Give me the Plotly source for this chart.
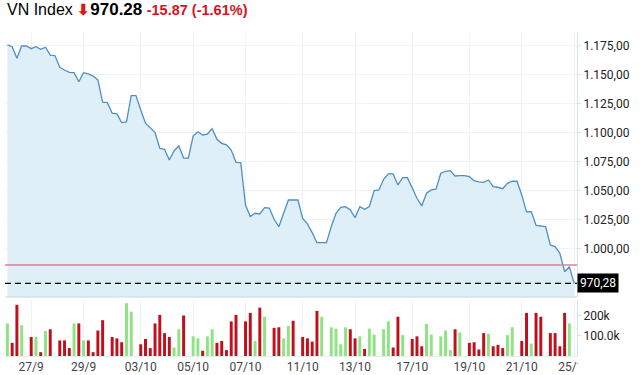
import plotly.graph_objects as go

# ---------------- data ----------------
price = [
    1175.9, 1174.4, 1164.4, 1175.0, 1175.0, 1172.7, 1174.4, 1172.2, 1173.9, 1167.2,
    1166.6, 1156.6, 1154.3, 1152.3, 1152.0, 1144.2, 1152.0, 1150.9, 1149.1, 1145.7,
    1126.5, 1126.1, 1117.0, 1116.4, 1108.9, 1109.5, 1132.2, 1132.2, 1119.8, 1108.4,
    1104.6, 1100.3, 1086.8, 1085.9, 1076.7, 1084.7, 1088.8, 1078.4, 1078.4, 1097.4,
    1101.1, 1098.3, 1099.1, 1103.7, 1094.6, 1091.1, 1089.7, 1085.3, 1074.7, 1074.4,
    1037.9, 1027.9, 1030.8, 1030.2, 1035.6, 1035.3, 1025.6, 1019.2, 1030.8, 1042.2,
    1042.2, 1042.2, 1026.4, 1021.6, 1014.1, 1005.4, 1005.4, 1005.4, 1019.2, 1030.8,
    1035.9, 1036.5, 1033.6, 1027.0, 1036.5, 1034.2, 1036.5, 1050.3, 1050.9, 1060.1,
    1064.7, 1064.7, 1055.2, 1061.5, 1061.5, 1052.3, 1043.7, 1037.1, 1048.0, 1050.9,
    1051.5, 1065.3, 1067.0, 1067.5, 1062.9, 1063.2, 1063.2, 1062.3, 1058.9, 1057.8,
    1057.5, 1059.5, 1053.7, 1053.2, 1052.0, 1056.6, 1058.4, 1058.4, 1046.6, 1032.0,
    1032.2, 1020.4, 1019.8, 1019.2, 1003.4, 1002.0, 996.3, 980.4, 984.7, 970.28,
]

# volume in thousands
volume_k = [
    161, 65, 253, 152, 0, 94, 94, 19, 123, 132,
    0, 77, 77, 39, 161, 161, 77, 77, 19, 126,
    177, 0, 94, 87, 68, 261, 219, 0, 58, 84,
    39, 161, 203, 113, 94, 42, 132, 200, 0, 97,
    87, 26, 97, 132, 65, 74, 29, 171, 203, 0,
    171, 213, 74, 239, 194, 0, 139, 142, 87, 148,
    174, 0, 94, 87, 71, 223, 194, 0, 142, 135,
    58, 142, 132, 87, 97, 35, 135, 106, 0, 132,
    171, 42, 194, 103, 0, 84, 97, 48, 158, 106,
    0, 97, 126, 29, 132, 116, 0, 65, 68, 32,
    113, 110, 48, 55, 39, 103, 142, 0, 74, 213,
    61, 213, 194, 0, 113, 113, 48, 213, 161, 0,
]

# direction per bar (u = up / green, d = down / red)
volume_dir = [
    "u", "d", "d", "u", "u", "d", "u", "d", "u", "d",
    "u", "d", "d", "d", "u", "d", "u", "d", "d", "d",
    "d", "u", "d", "d", "d", "u", "u", "u", "d", "d",
    "d", "d", "d", "d", "d", "u", "u", "d", "u", "u",
    "u", "d", "u", "u", "d", "d", "d", "d", "d", "u",
    "d", "d", "u", "d", "u", "u", "d", "d", "u", "u",
    "d", "u", "d", "d", "d", "d", "u", "u", "u", "u",
    "u", "u", "d", "d", "u", "d", "u", "u", "u", "u",
    "u", "d", "d", "u", "u", "d", "d", "d", "u", "u",
    "u", "u", "u", "u", "d", "u", "u", "d", "d", "d",
    "d", "u", "d", "d", "d", "u", "u", "u", "d", "d",
    "u", "d", "d", "u", "d", "d", "d", "d", "u", "d",
]

tick_index = [5, 16, 28, 39, 50, 62, 73, 85, 97, 108, 119]
tick_labels = ["27/9", "29/9", "03/10", "05/10", "07/10", "11/10",
               "13/10", "17/10", "19/10", "21/10", "25/10"]

price_ticks = [1000, 1025, 1050, 1075, 1100, 1125, 1150, 1175]
volume_ticks = [100000, 200000]
volume_tick_labels = ["100.0k", "200k"]

index_name = "VN Index"
prev_close = 986.15
last_price = price[-1]

# ---------------- figure ----------------
idx = list(range(len(price)))
volume = [v * 1000 for v in volume_k]
bar_colors = ["#8fe382" if d == "u" else "#c20f1d" for d in volume_dir]

change = last_price - prev_close
pct = change / prev_close * 100

fig = go.Figure()
fig.add_trace(go.Bar(
    x=idx, y=volume, marker=dict(color=bar_colors, line=dict(width=0)),
    width=0.62, yaxis="y", hoverinfo="skip",
))
fig.add_trace(go.Scatter(
    x=idx, y=price, mode="lines", yaxis="y2",
    line=dict(color="#4e8fc6", width=1.3),
    fill="tozeroy", fillcolor="#dfeff8", hoverinfo="skip",
))

grid = "#edf3f7"
axisline = "#d3e2ec"

fig.update_layout(
    width=640, height=375,
    margin=dict(l=5, r=63, t=33, b=19, autoexpand=False),
    paper_bgcolor="white", plot_bgcolor="white",
    showlegend=False, hovermode=False,
    separators=",.",
    font=dict(family="Roboto", size=12, color="#222"),
    xaxis=dict(
        range=[-0.5, 119.6], anchor="y", automargin=False,
        tickvals=tick_index, ticktext=tick_labels,
        showgrid=True, gridcolor=grid, zeroline=False,
        showline=True, linecolor="#e6edf2",
        ticks="", tickfont=dict(family="Roboto", size=12, color="#444"),
    ),
    yaxis=dict(
        domain=[0, 0.173], range=[0, 276000], side="right", anchor="x",
        automargin=False,
        tickvals=volume_ticks, ticktext=volume_tick_labels,
        showgrid=False, zeroline=False,
        showline=True, linecolor=axisline,
        ticks="outside", ticklen=3, tickcolor=axisline,
        tickfont=dict(family="Roboto", size=12, color="#222"),
    ),
    yaxis2=dict(
        domain=[0.1827, 1], range=[958.6, 1186.2], side="right", anchor="x",
        automargin=False,
        tickvals=price_ticks, tickformat=",.2f",
        showgrid=True, gridcolor=grid, zeroline=False,
        showline=True, linecolor=axisline,
        ticks="outside", ticklen=3, tickcolor=axisline,
        tickfont=dict(family="Roboto", size=12, color="#222"),
    ),
    shapes=[
        dict(type="line", xref="paper", x0=0, x1=1, yref="y2 domain", y0=0, y1=0,
             line=dict(color="#c9d7e0", width=1.2)),
        dict(type="line", xref="paper", x0=0, x1=1, yref="y2", y0=prev_close, y1=prev_close,
             line=dict(color="#dc7f98", width=1.4)),
        dict(type="line", xref="paper", x0=0, x1=1, yref="y2", y0=last_price, y1=last_price,
             line=dict(color="black", width=1.3, dash="6px,4px")),
        dict(type="rect", xref="paper", x0=1.002, x1=1.12, yref="paper", y0=-0.2, y1=-0.005,
             fillcolor="white", line=dict(width=0), layer="above"),
    ],
    annotations=[
        dict(xref="paper", x=1, xanchor="left", yref="y2", y=last_price, yanchor="middle",
             text=f"{last_price:.2f}".replace(".", ","), showarrow=False,
             bgcolor="black", borderpad=2,
             font=dict(family="Roboto", size=12, color="white")),
        dict(xref="paper", x=0.0, xanchor="left", yref="paper", y=1.108, yanchor="top",
             showarrow=False, align="left",
             text=(f"{index_name} <span style='color:#e0141c;font-size:15px'><b>⬇</b></span>"
                   f"<span style='font-size:17px'><b>{last_price:.2f}</b></span> "
                   f"<span style='color:#d9121c;font-size:14.5px'><b>{change:+.2f} ({pct:+.2f}%)</b></span>"),
             font=dict(family="Liberation Sans", size=16, color="black")),
    ],
)

fig.write_html("out.html")
